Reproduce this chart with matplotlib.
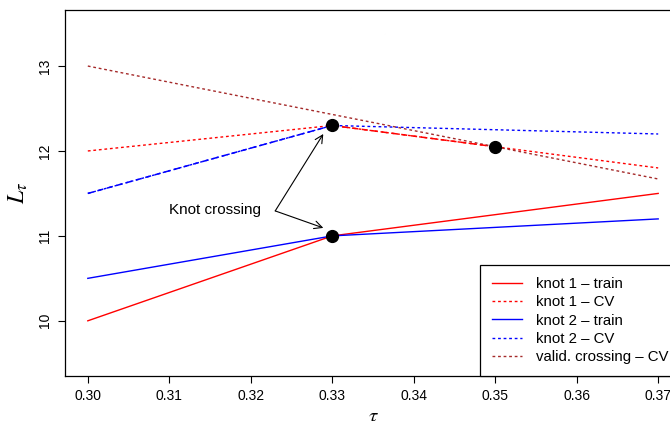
import numpy as np
import matplotlib
matplotlib.use('Agg')
import matplotlib.pyplot as plt

plt.rcParams['font.family'] = ['Liberation Sans', 'DejaVu Sans']
plt.rcParams['mathtext.fontset'] = 'stix'

# data
tau = [0.30, 0.33, 0.37]
k1_train = [10.0, 11.0, 11.5]
k2_train = [10.5, 11.0, 11.2]
k1_cv = [12.0, 12.3, 11.8]
k2_cv = [11.5, 12.3, 12.2]
valid_tau = [0.30, 0.37]
valid_cv = [13.0, 11.67]
# path followed after the knots cross
cross_tau = [0.30, 0.33, 0.35]
cross_cv = [11.5, 12.3, 12.05]
dot_tau = [0.33, 0.33, 0.35]
dot_L = [12.3, 11.0, 12.05]
xticks = [0.30, 0.31, 0.32, 0.33, 0.34, 0.35, 0.36, 0.37]
yticks = [10, 11, 12, 13]

fig = plt.figure(figsize=(6.7, 4.21), dpi=100)
ax = fig.add_axes([65/670, 45/421, (681-65)/670, (376-10)/421])

ax.plot(tau, k1_train, color='red', lw=1, label='knot 1 – train')
ax.plot(tau, k1_cv, color='red', lw=1, dashes=(2, 2), label='knot 1 – CV')
ax.plot(tau, k2_train, color='blue', lw=1, label='knot 2 – train')
ax.plot(tau, k2_cv, color='blue', lw=1, dashes=(2, 2), label='knot 2 – CV')
ax.plot(valid_tau, valid_cv, color='brown', lw=1, dashes=(2, 2), label='valid. crossing – CV')
ax.plot(cross_tau[:2], cross_cv[:2], color='blue', lw=1.1, dashes=(4, 2.5))
ax.plot(cross_tau[1:], cross_cv[1:], color='red', lw=1.1, dashes=(4, 2.5))

ax.plot(dot_tau, dot_L, 'o', color='black', ms=8.5, zorder=5)

ax.text(0.3156, 11.31, 'Knot crossing', ha='center', va='center', fontsize=11)
for ty in [12.2, 11.094]:
    ax.annotate('', xy=(0.3289, ty), xytext=(0.3230, 11.294),
                arrowprops=dict(arrowstyle='->', color='black', lw=0.8,
                                mutation_scale=14, shrinkA=0, shrinkB=0))

ax.set_xlim(0.2972, 0.3728)
ax.set_ylim(9.35, 13.66)
ax.set_xticks(xticks)
ax.set_xticklabels(['%.2f' % t for t in xticks])
ax.set_yticks(yticks)
ax.set_yticklabels([str(t) for t in yticks], rotation=90, va='center')
ax.tick_params(direction='out', length=5, width=0.8, labelsize=10, pad=4)
for s in ax.spines.values():
    s.set_linewidth(0.9)

ax.set_xlabel(r'$\tau$', fontsize=15, labelpad=3)
ax.set_ylabel(r'$L_\tau$', fontsize=17, labelpad=6)

leg = ax.legend(loc='lower right', bbox_to_anchor=(1, 0), borderaxespad=0,
                fancybox=False, edgecolor='black', framealpha=1,
                fontsize=10.8, handlelength=2.0, handletextpad=0.95,
                labelspacing=0.28, borderpad=0.8)
leg.get_frame().set_linewidth(0.9)

fig.savefig('out.png', dpi=100)
